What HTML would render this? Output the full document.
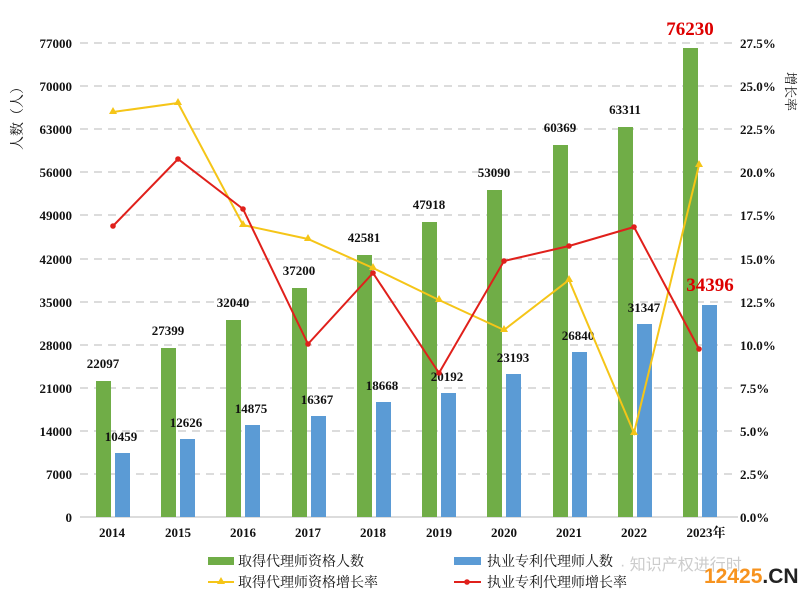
<!DOCTYPE html>
<html><head><meta charset="utf-8"><style>
body{margin:0;background:#fff}
svg{display:block}
text{font-family:"Liberation Serif","Noto Serif CJK SC",serif}
text.sans{font-family:"Liberation Sans","Noto Sans CJK SC",sans-serif}
</style></head><body>
<svg width="810" height="598" viewBox="0 0 810 598" xmlns="http://www.w3.org/2000/svg">
<rect width="810" height="598" fill="#fff"/>
<g stroke="#d0d0d0" stroke-width="1.5" stroke-dasharray="8,6">
<line x1="80" y1="43" x2="738" y2="43"/><line x1="80" y1="86" x2="738" y2="86"/><line x1="80" y1="129" x2="738" y2="129"/><line x1="80" y1="172" x2="738" y2="172"/><line x1="80" y1="215" x2="738" y2="215"/><line x1="80" y1="259" x2="738" y2="259"/><line x1="80" y1="302" x2="738" y2="302"/><line x1="80" y1="345" x2="738" y2="345"/><line x1="80" y1="388" x2="738" y2="388"/><line x1="80" y1="431" x2="738" y2="431"/><line x1="80" y1="474" x2="738" y2="474"/>
</g>
<line x1="80" y1="517" x2="738" y2="517" stroke="#d0d0d0" stroke-width="1.5"/>
<g font-size="13" font-weight="bold" fill="#111" text-anchor="end">
<text x="72" y="48">77000</text><text x="72" y="91">70000</text><text x="72" y="134">63000</text><text x="72" y="177">56000</text><text x="72" y="220">49000</text><text x="72" y="264">42000</text><text x="72" y="307">35000</text><text x="72" y="350">28000</text><text x="72" y="393">21000</text><text x="72" y="436">14000</text><text x="72" y="479">7000</text><text x="72" y="522">0</text>
</g>
<g font-size="13" font-weight="bold" fill="#111" text-anchor="start">
<text x="740" y="48">27.5%</text><text x="740" y="91">25.0%</text><text x="740" y="134">22.5%</text><text x="740" y="177">20.0%</text><text x="740" y="220">17.5%</text><text x="740" y="264">15.0%</text><text x="740" y="307">12.5%</text><text x="740" y="350">10.0%</text><text x="740" y="393">7.5%</text><text x="740" y="436">5.0%</text><text x="740" y="479">2.5%</text><text x="740" y="522">0.0%</text>
</g>
<text font-size="14" fill="#111" transform="translate(22,150) rotate(-90)">人数（人）</text>
<text font-size="13" fill="#111" transform="translate(786,72) rotate(90)">增长率</text>
<g fill="#70ad47">
<rect x="96" y="381" width="15" height="136"/><rect x="161" y="348" width="15" height="169"/><rect x="226" y="320" width="15" height="197"/><rect x="292" y="288" width="15" height="229"/><rect x="357" y="255" width="15" height="262"/><rect x="422" y="222" width="15" height="295"/><rect x="487" y="190" width="15" height="327"/><rect x="553" y="145" width="15" height="372"/><rect x="618" y="127" width="15" height="390"/><rect x="683" y="48" width="15" height="469"/>
</g>
<g fill="#5b9bd5">
<rect x="115" y="453" width="15" height="64"/><rect x="180" y="439" width="15" height="78"/><rect x="245" y="425" width="15" height="92"/><rect x="311" y="416" width="15" height="101"/><rect x="376" y="402" width="15" height="115"/><rect x="441" y="393" width="15" height="124"/><rect x="506" y="374" width="15" height="143"/><rect x="572" y="352" width="15" height="165"/><rect x="637" y="324" width="15" height="193"/><rect x="702" y="305" width="15" height="212"/>
</g>
<g font-size="13" font-weight="bold" fill="#111" text-anchor="middle">
<text x="103" y="368">22097</text><text x="168" y="335">27399</text><text x="233" y="307">32040</text><text x="299" y="275">37200</text><text x="364" y="242">42581</text><text x="429" y="209">47918</text><text x="494" y="177">53090</text><text x="560" y="132">60369</text><text x="625" y="114">63311</text>
<text x="121" y="441">10459</text><text x="186" y="427">12626</text><text x="251" y="413">14875</text><text x="317" y="404">16367</text><text x="382" y="390">18668</text><text x="447" y="381">20192</text><text x="513" y="362">23193</text><text x="578" y="340">26840</text><text x="644" y="312">31347</text>
</g>
<g font-size="19" font-weight="bold" fill="#d00" text-anchor="middle">
<text x="690" y="35">76230</text><text x="710" y="291">34396</text>
</g>
<polyline fill="none" stroke="#f5c518" stroke-width="2" points="113,112 178,103 243,225 308,239 373,268 439,300 504,330 569,280 634,433 699,165"/>
<g fill="#f5c518">
<path d="M113,107 l4,7 h-8z"/><path d="M178,98 l4,7 h-8z"/><path d="M243,220 l4,7 h-8z"/><path d="M308,234 l4,7 h-8z"/><path d="M373,263 l4,7 h-8z"/><path d="M439,295 l4,7 h-8z"/><path d="M504,325 l4,7 h-8z"/><path d="M569,275 l4,7 h-8z"/><path d="M634,428 l4,7 h-8z"/><path d="M699,160 l4,7 h-8z"/>
</g>
<polyline fill="none" stroke="#e0201b" stroke-width="2" points="113,226 178,159 243,209 308,344 373,273 439,373 504,261 569,246 634,227 699,349"/>
<g fill="#e0201b">
<circle cx="113" cy="226" r="2.8"/><circle cx="178" cy="159" r="2.8"/><circle cx="243" cy="209" r="2.8"/><circle cx="308" cy="344" r="2.8"/><circle cx="373" cy="273" r="2.8"/><circle cx="439" cy="373" r="2.8"/><circle cx="504" cy="261" r="2.8"/><circle cx="569" cy="246" r="2.8"/><circle cx="634" cy="227" r="2.8"/><circle cx="699" cy="349" r="2.8"/>
</g>
<g font-size="13" font-weight="bold" fill="#111" text-anchor="middle">
<text x="112" y="537">2014</text><text x="178" y="537">2015</text><text x="243" y="537">2016</text><text x="308" y="537">2017</text><text x="373" y="537">2018</text><text x="439" y="537">2019</text><text x="504" y="537">2020</text><text x="569" y="537">2021</text><text x="634" y="537">2022</text><text x="706" y="537">2023年</text>
</g>
<rect x="208" y="557" width="26" height="8" fill="#70ad47"/>
<text x="238" y="566" font-size="14" fill="#111">取得代理师资格人数</text>
<rect x="454" y="557" width="27" height="8" fill="#5b9bd5"/>
<text x="487" y="566" font-size="14" fill="#111">执业专利代理师人数</text>
<line x1="208" y1="582" x2="234" y2="582" stroke="#f5c518" stroke-width="2"/><path d="M221,577 l4,7 h-8z" fill="#f5c518"/>
<text x="238" y="587" font-size="14" fill="#111">取得代理师资格增长率</text>
<line x1="454" y1="582" x2="481" y2="582" stroke="#e0201b" stroke-width="2"/><circle cx="467" cy="582" r="2.8" fill="#e0201b"/>
<text x="487" y="587" font-size="14" fill="#111">执业专利代理师增长率</text>
<text class="sans" x="620" y="570" font-size="16" fill="#ccc">· 知识产权进行时</text>
<text class="sans" x="704" y="583" font-size="21" font-weight="bold" fill="#f7931e">12425<tspan fill="#222">.CN</tspan></text>
</svg>
</body></html>
